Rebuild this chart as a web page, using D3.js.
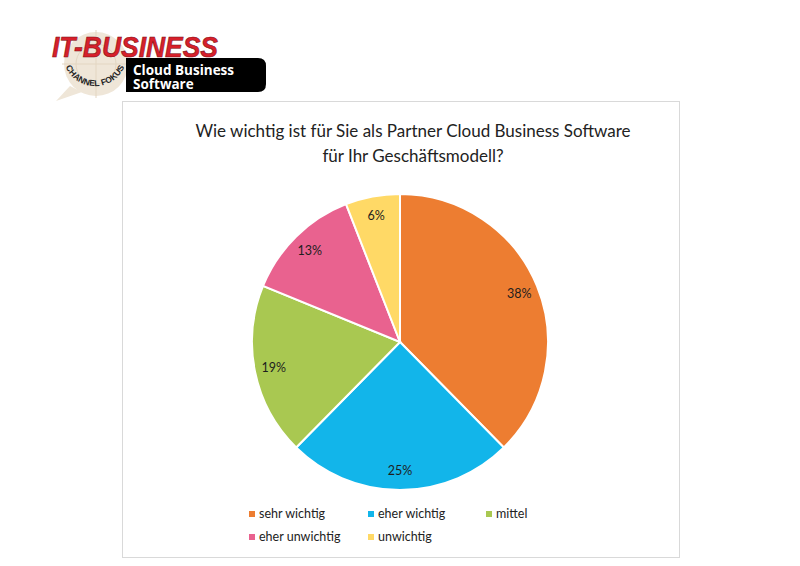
<!DOCTYPE html>
<html><head><meta charset="utf-8">
<script src="https://cdn.jsdelivr.net/npm/d3@7"></script>
<style>body{margin:0;background:#fff}svg{display:block}</style>
</head><body>
<svg id="c" width="800" height="566"></svg>
<script>
const categories = ["sehr wichtig","eher wichtig","mittel","eher unwichtig","unwichtig"];
const values = [38,25,19,13,6];
const colors = ["#ED7D31","#12B5EA","#A9C851","#E9628F","#FFD966"];
const titleLines = ["Wie wichtig ist für Sie als Partner Cloud Business Software","für Ihr Geschäftsmodell?"];

const svg = d3.select("#c");
const font = "Lato, 'Open Sans', sans-serif";

// logo
const logo = svg.append("g");
logo.append("path").attr("d","M70,86 L56,101 L82,92 Z").attr("fill","#efe6d8");
logo.append("circle").attr("cx",96).attr("cy",64).attr("r",32).attr("fill","#efe6d8");
logo.append("circle").attr("cx",96).attr("cy",64).attr("r",20).attr("fill","none").attr("stroke","#e3d6c2").attr("stroke-width",1);
logo.append("line").attr("x1",96).attr("x2",96).attr("y1",30).attr("y2",98).attr("stroke","#e3d6c2");
logo.append("line").attr("x1",62).attr("x2",130).attr("y1",64).attr("y2",64).attr("stroke","#e3d6c2");
logo.append("path").attr("d","M126,58 H258 Q266,58 266,66 V84 Q266,92 258,92 H126 Z").attr("fill","#000");
logo.append("text").attr("x",133).attr("y",75).attr("fill","#fff").attr("font-family","'Open Sans', sans-serif").attr("font-weight","bold").attr("font-size",13.5).text("Cloud Business");
logo.append("text").attr("x",133).attr("y",89).attr("fill","#fff").attr("font-family","'Open Sans', sans-serif").attr("font-weight","bold").attr("font-size",13.5).text("Software");
logo.append("path").attr("id","arc").attr("d","M64,62 A32,32 0 0 0 126,62").attr("fill","none");
logo.append("text").attr("font-family","'Liberation Sans', sans-serif").attr("font-weight","bold").attr("font-size",8.5).attr("fill","#222")
  .append("textPath").attr("href","#arc").attr("startOffset","50%").attr("text-anchor","middle").text("CHANNEL FOKUS");
logo.append("text").attr("x",52).attr("y",57).attr("fill","#d7202b").attr("stroke","#7a0c10").attr("stroke-width",0.6)
  .attr("font-family","'Liberation Sans', sans-serif").attr("font-weight","bold").attr("font-style","italic").attr("font-size",30)
  .attr("textLength",166).attr("lengthAdjust","spacingAndGlyphs").text("IT-BUSINESS");

// chart frame
svg.append("rect").attr("x",122.5).attr("y",101.5).attr("width",557).attr("height",456).attr("fill","#fff").attr("stroke","#d9d9d9");

svg.append("text").attr("text-anchor","middle").attr("font-family",font).attr("font-size",17).attr("fill","#222")
  .selectAll("tspan").data(titleLines).join("tspan").attr("x",413).attr("y",(d,i)=>137+i*25).text(d=>d);

const cx=400, cy=342, R=148;
const pie = d3.pie().sort(null).value(d=>d)(values);
const arc = d3.arc().innerRadius(0).outerRadius(R);
const labelArc = d3.arc().innerRadius(R*0.87).outerRadius(R*0.87);
const g = svg.append("g").attr("transform",`translate(${cx},${cy})`);
g.selectAll("path").data(pie).join("path").attr("d",arc).attr("fill",(d,i)=>colors[i]).attr("stroke","#fff").attr("stroke-width",2);
g.selectAll("text").data(pie).join("text")
  .attr("transform",d=>`translate(${labelArc.centroid(d)})`)
  .attr("text-anchor","middle").attr("dy","0.35em").attr("font-family",font).attr("font-size",12.5).attr("fill","#1e1e1e")
  .text(d=>d.data+"%");

// legend
const lx=[252,371,489], ly=[514,537];
const leg = svg.append("g").selectAll("g").data(categories).join("g")
  .attr("transform",(d,i)=>`translate(${lx[i%3]},${ly[Math.floor(i/3)]})`);
leg.append("rect").attr("x",-3).attr("y",-3).attr("width",6).attr("height",6).attr("fill",(d,i)=>colors[i]);
leg.append("text").attr("x",7).attr("dy","0.35em").attr("font-family",font).attr("font-size",12.5).attr("fill","#222").text(d=>d);
</script>
</body></html>
